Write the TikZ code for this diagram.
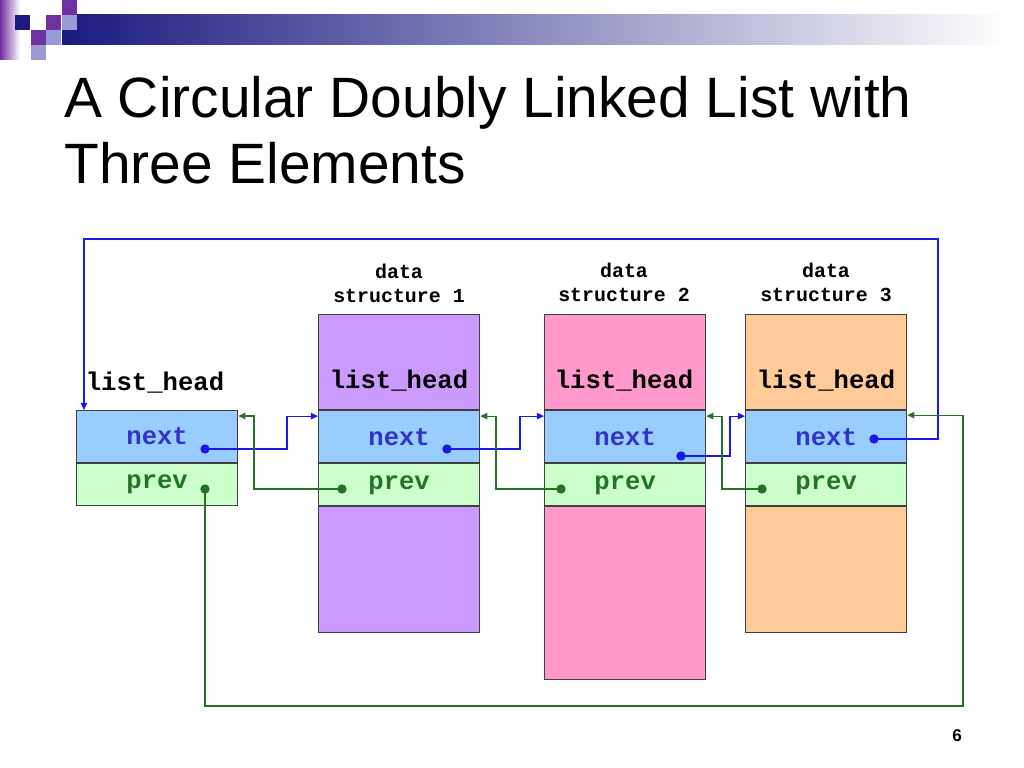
\documentclass[tikz,border=0pt]{standalone}
\usepackage{fontspec}
\setmainfont{Liberation Sans}
\setmonofont{Liberation Mono}
\usetikzlibrary{positioning,arrows.meta}

\definecolor{nextfill}{HTML}{99CCFF}
\definecolor{prevfill}{HTML}{CCFFCC}
\definecolor{dsone}{HTML}{CC99FF}
\definecolor{dstwo}{HTML}{FF99CC}
\definecolor{dsthree}{HTML}{FFCC99}
\definecolor{nexttext}{HTML}{3333CC}
\definecolor{prevtext}{HTML}{267326}
\definecolor{linkblue}{HTML}{1A1AE6}
\definecolor{linkgreen}{HTML}{267326}
\definecolor{logonavy}{HTML}{1A1A80}
\definecolor{logopurple}{HTML}{7030A0}
\definecolor{logolav}{HTML}{9999D6}

\tikzset{
    cell/.style={draw=black!75, line width=0.6pt, minimum width=113.5pt, inner sep=0pt},
    topcell/.style={cell, minimum height=67pt},
    nextcell/.style={cell, fill=nextfill, minimum height=36.8pt, text=nexttext, font=\fontsize{18}{20}\ttfamily\bfseries},
    prevcell/.style={cell, fill=prevfill, minimum height=29.6pt, text=prevtext, font=\fontsize{18}{20}\ttfamily\bfseries},
    headlbl/.style={font=\fontsize{18}{20}\ttfamily\bfseries},
    dslbl/.style={font=\fontsize{14}{17}\ttfamily\bfseries, align=center},
    ptr/.style={circle, inner sep=0pt, minimum size=6.6pt},
    nextlink/.style={draw=linkblue, line width=0.8pt, -{Triangle[length=5pt,width=4.5pt]}},
    prevlink/.style={draw=linkgreen, line width=0.8pt, -{Triangle[length=5pt,width=4.5pt]}}
}

\begin{document}
\begin{tikzpicture}[x=0.703125pt, y=-0.703125pt]
    \useasboundingbox (0,0) rectangle (1024,768);
    % slide logo and bar
    \shade[left color=logopurple, right color=white] (0,0) rectangle (20,60);
    \shade[left color=logonavy, right color=white] (62,15) rectangle (1010,45);
    \fill[logonavy] (15,15) rectangle (30,30);
    \fill[logopurple] (62,0) rectangle (77,15);
    \fill[logopurple] (46,15) rectangle (61,30);
    \fill[logolav] (62,15) rectangle (77,30);
    \fill[logopurple] (31,30) rectangle (46,45);
    \fill[logolav] (46,30) rectangle (61,45);
    \fill[logolav] (31,45) rectangle (46,60);
    \node[anchor=base west, inner sep=0pt, font=\fontsize{40}{46}\selectfont] (title1) at (64,118) {A Circular Doubly Linked List with};
    \node[anchor=base west, inner sep=0pt, font=\fontsize{40}{46}\selectfont] (title2) at (64,184) {Three Elements};
    \node[font=\fontsize{12}{14}\selectfont\bfseries] (pagenum) at (957,736) {6};

    % the list head
    \node[headlbl] (h0lbl) at (155,383) {list\_head};
    \node[nextcell, anchor=north west] (h0next) at (76,410) {next};
    \node[prevcell, below=0pt of h0next] (h0prev) {prev};

    % data structure 1
    \node[dslbl] (s1lbl) at (399,283) {data\\structure 1};
    \node[topcell, fill=dsone, anchor=north west] (s1top) at (318,314) {};
    \node[nextcell, below=0pt of s1top] (s1next) {next};
    \node[prevcell, below=0pt of s1next] (s1prev) {prev};
    \node[cell, fill=dsone, minimum height=88.3pt, below=0pt of s1prev] (s1rest) {};
    \node[headlbl] (s1head) at (399,381) {list\_head};

    % data structure 2
    \node[dslbl] (s2lbl) at (624,282) {data\\structure 2};
    \node[topcell, fill=dstwo, anchor=north west] (s2top) at (544,314) {};
    \node[nextcell, below=0pt of s2top] (s2next) {next};
    \node[prevcell, below=0pt of s2next] (s2prev) {prev};
    \node[cell, fill=dstwo, minimum height=121.3pt, below=0pt of s2prev] (s2rest) {};
    \node[headlbl] (s2head) at (624,381) {list\_head};

    % data structure 3
    \node[dslbl] (s3lbl) at (826,282) {data\\structure 3};
    \node[topcell, fill=dsthree, anchor=north west] (s3top) at (745,314) {};
    \node[nextcell, below=0pt of s3top] (s3next) {next};
    \node[prevcell, below=0pt of s3next] (s3prev) {prev};
    \node[cell, fill=dsthree, minimum height=88.3pt, below=0pt of s3prev] (s3rest) {};
    \node[headlbl] (s3head) at (826,381) {list\_head};

    % pointer dots
    \node[ptr, fill=linkblue] (h0nd) at (205,449) {};
    \node[ptr, fill=linkgreen] (h0pd) at (205,489) {};
    \node[ptr, fill=linkblue] (s1nd) at (447,449) {};
    \node[ptr, fill=linkgreen] (s1pd) at (342,489) {};
    \node[ptr, fill=linkblue] (s2nd) at (681,456) {};
    \node[ptr, fill=linkgreen] (s2pd) at (561,489) {};
    \node[ptr, fill=linkblue] (s3nd) at (874,439) {};
    \node[ptr, fill=linkgreen] (s3pd) at (762,489) {};

    % next links
    \draw[nextlink] (h0nd.center) -- ++(82,0) |- ([yshift=-4.2pt]s1next.north west);
    \draw[nextlink] (s1nd.center) -- ++(73,0) |- ([yshift=-4.2pt]s2next.north west);
    \draw[nextlink] (s2nd.center) -- ++(49,0) |- ([yshift=-4.2pt]s3next.north west);
    \draw[nextlink] (s3nd.center) -- ++(64,0) -- ++(0,-200) -| ([xshift=5.6pt]h0next.north west);

    % prev links
    \draw[prevlink] (s1pd.center) -- ++(-88,0) |- ([yshift=-4.2pt]h0next.north east);
    \draw[prevlink] (s2pd.center) -- ++(-65,0) |- ([yshift=-4.2pt]s1next.north east);
    \draw[prevlink] (s3pd.center) -- ++(-40,0) |- ([yshift=-4.2pt]s2next.north east);
    \draw[prevlink] (h0pd.center) -- ++(0,217) -- ++(758,0) |- ([yshift=-3.5pt]s3next.north east);
\end{tikzpicture}
\end{document}
